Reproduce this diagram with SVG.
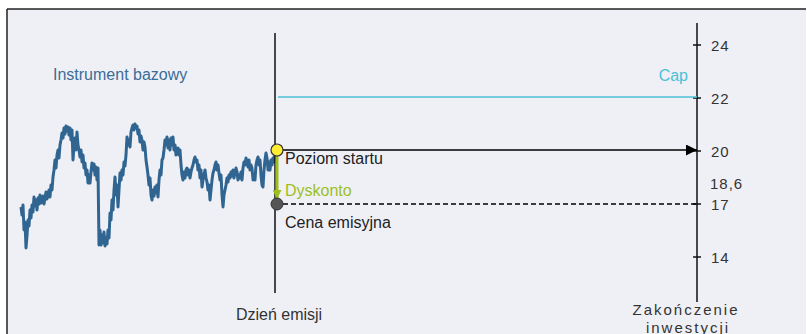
<svg xmlns="http://www.w3.org/2000/svg" width="807" height="334" viewBox="0 0 807 334">
<style>
text{font-family:"Liberation Sans",Arial,sans-serif;font-size:16px}
.ax{fill:#333;letter-spacing:1px;font-size:15px}
.lbl{fill:#222}
.tick{stroke:#111;stroke-width:1.5}
</style>
<defs>
<marker id="ahBlack" viewBox="0 0 10 10" refX="10" refY="5" markerWidth="11" markerHeight="11" markerUnits="userSpaceOnUse" orient="auto"><path d="M0,0 L10,5 L0,10 Z" fill="#000"/></marker>
<marker id="ahGreen" viewBox="0 0 10 10" refX="10" refY="5" markerWidth="9" markerHeight="9" markerUnits="userSpaceOnUse" orient="auto"><path d="M0,0 L10,5 L0,10 Z" fill="#9cbf1f"/></marker>
</defs>
<rect x="0" y="0" width="807" height="334" fill="#fff"/>
<rect x="7" y="9" width="799" height="330" fill="#eff0f6"/>
<line x1="7" y1="9" x2="806" y2="9" stroke="#222" stroke-width="1.5"/>
<line x1="7" y1="9" x2="7" y2="334" stroke="#222" stroke-width="1.5"/>

<g id="underlying">
<polyline fill="none" stroke="#2f6590" stroke-width="3" stroke-linejoin="round" points="21,207 22,215 23,205 24,230 25,222 26,248 27,236 28,220 29,226 30,210 31,218 32,205 33,212 34,197 35,206 36,200 37,210 38,198 39,204 40,195 41,203 42,200 43,196 44,204 45,198 46,192 47,199 48,195 49,190 50,197 51,185 52,190 53,177 54,170 55,160 56,168 57,155 58,150 59,158 60,145 61,140 62,133 63,138 64,128 65,134 66,126 67,131 68,127 69,135 70,128 71,140 72,130 73,160 74,145 75,138 76,150 77,132 78,145 79,150 80,157 81,150 82,162 83,155 84,168 85,163 86,175 87,170 88,183 89,175 90,183 91,172 92,163 93,170 94,164 95,175 96,167 97,180 98,168 99,245 100,230 101,245 102,235 103,243 104,232 105,246 106,238 107,244 108,230 109,238 110,213 111,220 112,200 113,210 114,190 115,177 116,195 117,185 118,207 119,190 120,173 121,180 122,170 123,175 124,162 125,166 126,155 127,137 128,145 129,140 130,147 131,132 132,128 133,125 134,130 135,124 136,128 137,126 138,134 139,130 140,142 141,136 142,140 143,150 144,142 145,147 146,160 147,167 148,175 149,185 150,178 151,195 152,200 153,190 154,196 155,187 156,193 157,185 158,197 159,180 160,170 161,175 162,160 163,158 164,150 165,140 166,145 167,137 168,148 169,140 170,150 171,138 172,145 173,137 174,150 175,145 176,155 177,153 178,148 179,155 180,150 181,165 182,175 183,180 184,172 185,178 186,170 187,168 188,175 189,170 190,178 191,172 192,168 193,165 194,160 195,157 196,162 197,160 198,170 199,165 200,178 201,170 202,187 203,180 204,175 205,170 206,178 207,182 208,190 209,185 210,200 211,190 212,180 213,173 214,170 215,165 216,162 217,170 218,165 219,173 220,180 221,175 222,195 223,207 224,195 225,190 226,185 227,178 228,182 229,175 230,178 231,172 232,176 233,170 234,178 235,173 236,168 237,172 238,180 239,175 240,178 241,172 242,180 243,168 244,162 245,165 246,158 247,162 248,167 249,160 250,170 251,165 252,168 253,180 254,175 255,180 256,165 257,160 258,157 259,165 260,160 261,175 262,185 263,187 264,170 265,160 266,153 267,158 268,170 269,162 270,170 271,160 272,165 273,158 274,162 275,155"/>
<text x="53" y="80" fill="#3a6d98">Instrument bazowy</text>
</g>

<g id="issue-day-axis">
<line x1="275" y1="33" x2="275" y2="293" stroke="#111" stroke-width="1.5"/>
<text x="279" y="320" text-anchor="middle" fill="#333">Dzień emisji</text>
</g>

<g id="value-axis">
<line x1="697" y1="23" x2="697" y2="302" stroke="#111" stroke-width="1.5"/>
<line class="tick" x1="693" y1="45" x2="701" y2="45"/>
<line class="tick" x1="693" y1="98" x2="701" y2="98"/>
<line class="tick" x1="693" y1="151" x2="701" y2="151"/>
<line class="tick" x1="693" y1="204" x2="701" y2="204"/>
<line class="tick" x1="693" y1="257" x2="701" y2="257"/>
<text class="ax" x="711" y="51">24</text>
<text class="ax" x="711" y="104">22</text>
<text class="ax" x="711" y="157">20</text>
<text class="ax" x="710" y="189">18,6</text>
<text class="ax" x="711" y="210">17</text>
<text class="ax" x="711" y="263">14</text>
<text x="686" y="315" text-anchor="middle" fill="#333" style="letter-spacing:2px;font-size:15px">Zakończenie</text>
<text x="688" y="333" text-anchor="middle" fill="#333" style="letter-spacing:2px;font-size:15px">inwestycji</text>
</g>

<g id="connectors">
<line x1="278" y1="97" x2="697" y2="97" stroke="#4cc0d6" stroke-width="1.5"/>
<line x1="283" y1="150" x2="697" y2="150" stroke="#000" stroke-width="1.5" marker-end="url(#ahBlack)"/>
<line x1="283" y1="204" x2="697" y2="204" stroke="#000" stroke-width="1.5" stroke-dasharray="5,3"/>
<line x1="277" y1="156" x2="277" y2="199" stroke="#9cbf1f" stroke-width="3" marker-end="url(#ahGreen)"/>
</g>

<g id="cap">
<text x="688" y="81" text-anchor="end" fill="#4cc0d6">Cap</text>
</g>

<g id="start-level">
<circle cx="277" cy="150" r="6" fill="#ffee33" stroke="#333" stroke-width="1.2"/>
<text class="lbl" x="285" y="164">Poziom startu</text>
</g>

<g id="discount">
<text x="285" y="196" fill="#9cbf1f">Dyskonto</text>
</g>

<g id="issue-price">
<circle cx="277" cy="204" r="6" fill="#555" stroke="#333" stroke-width="1"/>
<text class="lbl" x="285" y="228">Cena emisyjna</text>
</g>
</svg>
